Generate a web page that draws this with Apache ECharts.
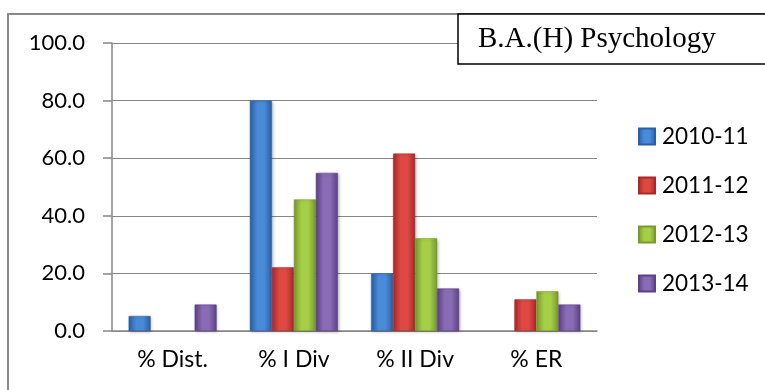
<!DOCTYPE html>
<html>
<head>
<meta charset="utf-8">
<script src="https://cdn.jsdelivr.net/npm/echarts@6/dist/echarts.min.js"></script>
<style>
html,body{margin:0;padding:0;background:#fff;}
#c{width:765px;height:390px;}
</style>
</head>
<body>
<div id="c"></div>
<script>
var categories = ['% Dist.', '% I Div', '% II Div', '% ER'];
var seriesNames = ['2010-11', '2011-12', '2012-13', '2013-14'];
var v2010 = [5.2, 80.0, 20.0, null];
var v2011 = [null, 22.1, 61.6, 11.0];
var v2012 = [null, 45.7, 32.2, 13.8];
var v2013 = [9.2, 54.9, 14.8, 9.2];
var yTicks = [0, 20, 40, 60, 80, 100];
var chartTitle = 'B.A.(H) Psychology';

var palettes = [
  ['#2a5fa6', '#4a8bd8'],
  ['#a9282a', '#de4a43'],
  ['#789a2c', '#a6cf48'],
  ['#5c4186', '#8a6bb5']
];
function grad(p) {
  return new echarts.graphic.LinearGradient(0, 0, 1, 0, [
    {offset: 0, color: p[0]},
    {offset: 0.35, color: p[1]},
    {offset: 0.65, color: p[1]},
    {offset: 1, color: p[0]}
  ]);
}
var values = [v2010, v2011, v2012, v2013];
var series = seriesNames.map(function (n, i) {
  return {
    name: n,
    type: 'bar',
    data: values[i],
    barWidth: 22,
    barGap: '0%',
    itemStyle: {color: grad(palettes[i]), borderColor: palettes[i][0], borderWidth: 0.5,
      shadowColor: 'rgba(0,0,0,0.25)', shadowBlur: 3, shadowOffsetX: 1, shadowOffsetY: 1}
  };
});

var chart = echarts.init(document.getElementById('c'), null, {renderer: 'canvas'});
chart.setOption({
  animation: false,
  backgroundColor: '#fff',
  textStyle: {fontFamily: 'Lato'},
  graphic: [{
    type: 'rect', z: -1, silent: true,
    shape: {x: 8, y: 14, width: 780, height: 400},
    style: {fill: '#fff', stroke: '#8a8a8a', lineWidth: 2}
  }],
  title: {
    text: chartTitle,
    left: 458, top: 14,
    padding: [8, 70, 8, 20],
    borderColor: '#000', borderWidth: 1.5,
    backgroundColor: '#fff',
    textStyle: {fontFamily: 'Liberation Serif', fontWeight: 'normal', fontSize: 29, color: '#000', lineHeight: 34}
  },
  legend: {
    orient: 'vertical',
    left: 638, top: 125,
    padding: 0,
    itemWidth: 16, itemHeight: 16, itemGap: 26,
    icon: 'rect',
    textStyle: {fontFamily: 'Lato', fontSize: 22.5, color: '#000', lineHeight: 22, padding: [0, 0, 0, 2]},
    data: seriesNames
  },
  grid: {left: 112, right: 168, top: 43, bottom: 59},
  xAxis: {
    type: 'category',
    data: categories,
    axisLine: {lineStyle: {color: '#868686', width: 1.5}},
    axisTick: {length: 8, lineStyle: {color: '#868686', width: 1.5}},
    axisLabel: {margin: 17, fontFamily: 'Lato', fontSize: 23, color: '#000'}
  },
  yAxis: {
    type: 'value',
    min: yTicks[0], max: yTicks[yTicks.length - 1], interval: yTicks[1] - yTicks[0],
    axisLine: {show: true, lineStyle: {color: '#868686', width: 1.5}},
    axisTick: {show: true, length: 9, lineStyle: {color: '#868686', width: 1.5}},
    splitLine: {lineStyle: {color: '#868686', width: 1.2}},
    axisLabel: {margin: 27, fontFamily: 'Lato', fontSize: 22, color: '#000',
      formatter: function (v) { return v.toFixed(1); }}
  },
  series: series
});
</script>
</body>
</html>
